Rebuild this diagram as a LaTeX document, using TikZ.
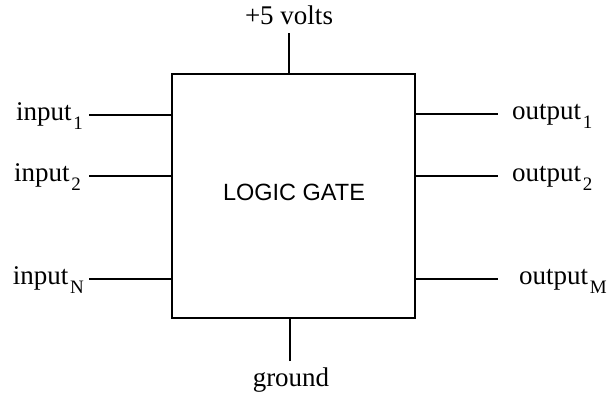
\documentclass[tikz,border=0pt]{standalone}
\usepackage{fontspec}
\setmainfont{Liberation Serif}
\newfontfamily\gatefont{Liberation Sans}
\newcommand\lblsub[1]{\kern0.06em\raisebox{-0.34em}{\fontsize{19}{19}\selectfont #1}}
\begin{document}
\begin{tikzpicture}[x=1pt,y=-1pt,
  lead/.style={line width=1.8pt},
  lbl/.style={inner sep=0pt,font=\fontsize{27}{28}\selectfont},
  gatebox/.style={draw,line width=2.4pt,minimum width=243pt,minimum height=244pt,inner sep=0pt}]
\useasboundingbox (0,0) rectangle (607,399);
\node[gatebox] (gate) at (293.5,196) {};
\node[inner sep=0pt,anchor=base,font=\gatefont\fontsize{23.5}{23.5}\selectfont] (gl) at (294,200) {LOGIC GATE};
% top / bottom
\coordinate (vcc) at (289,33);
\coordinate (gnd) at (290,361);
\draw[lead] (vcc) -- (vcc |- gate.north);
\draw[lead] (gnd) -- (gnd |- gate.south);
\node[lbl,anchor=base] (vl) at (289,24) {+5 volts};
\node[lbl,anchor=base] (gndl) at (291,386) {ground};
% inputs
\coordinate (i1) at (89,115);
\coordinate (i2) at (89,176);
\coordinate (iN) at (89,279);
\foreach \c in {i1,i2,iN} \draw[lead] (\c) -- (\c -| gate.west);
\node[lbl,anchor=base east] (il1) at (83,120) {input\lblsub{1}};
\node[lbl,anchor=base east] (il2) at (81,181) {input\lblsub{2}};
\node[lbl,anchor=base east] (ilN) at (84,284) {input\lblsub{N}};
% outputs
\coordinate (o1) at (498,114);
\coordinate (o2) at (498,176);
\coordinate (oM) at (498,279);
\foreach \c in {o1,o2,oM} \draw[lead] (\c -| gate.east) -- (\c);
\node[lbl,anchor=base west] (ol1) at (512,119) {output\lblsub{1}};
\node[lbl,anchor=base west] (ol2) at (512,181) {output\lblsub{2}};
\node[lbl,anchor=base west] (olM) at (519,284) {output\lblsub{M}};
\end{tikzpicture}
\end{document}
